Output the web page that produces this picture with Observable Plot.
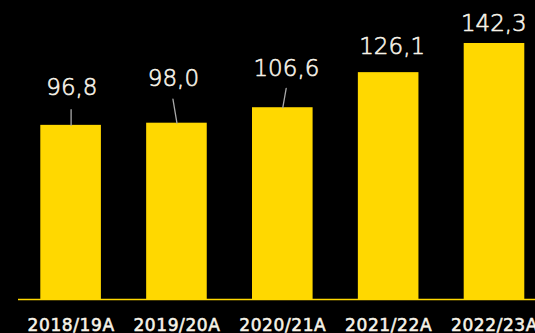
<!DOCTYPE html>
<html>
<head>
<meta charset="utf-8">
<script src="https://cdn.jsdelivr.net/npm/d3@7"></script>
<script src="https://cdn.jsdelivr.net/npm/@observablehq/plot@0.6"></script>
<style>
  html, body { margin: 0; padding: 0; background: #000; overflow: hidden; }
  #chart svg { display: block; }
  [aria-label^="x-axis"] text { letter-spacing: 0.6px; stroke: #F7F3E8; stroke-width: 0.55px; }
</style>
</head>
<body>
<div id="chart"></div>
<script>
const categories = ["2018/19A", "2019/20A", "2020/21A", "2021/22A", "2022/23A"];
const values = [96.8, 98.0, 106.6, 126.1, 142.3];
const valueLabels = ["96,8", "98,0", "106,6", "126,1", "142,3"];

const data = categories.map((c, i) => ({category: c, value: values[i], label: valueLabels[i]}));

// annotation placement (pixels): label shift and leader line geometry
const placement = [
  {dx: 0.8, lift: 37.3, leader: {len: 15.7, angle: 0}},
  {dx: -3.5, lift: 45, leader: {len: 24.3, angle: -9.5}},
  {dx: 3.6, lift: 39.5, leader: {len: 19.7, angle: 9.9}},
  {dx: 3.5, lift: 25.9},
  {dx: -0.7, lift: 20.3}
];

const yellow = "#FFD800";
const textColor = "#F7F3E8";
const lineShape = {draw(context, l) { context.moveTo(0, 0); context.lineTo(0, -l); }};

const annotationMarks = data.flatMap((d, i) => {
  const p = placement[i];
  const marks = [
    Plot.text([d], {
      x: "category", y: "value", text: "label",
      dx: p.dx, dy: -p.lift,
      fill: textColor, stroke: textColor, strokeWidth: 0.6,
      fontSize: 23, fontFamily: "DejaVu Sans", fontWeight: 200, textAnchor: "middle"
    })
  ];
  if (p.leader) {
    marks.push(Plot.vector([d], {
      x: "category", y: "value",
      length: p.leader.len, rotate: p.leader.angle,
      anchor: "start", shape: lineShape,
      stroke: "#A8A8A8", strokeWidth: 1.3
    }));
  }
  return marks;
});

const chart = Plot.plot({
  width: 535,
  height: 333,
  marginLeft: 18,
  marginRight: -11.6,
  marginTop: 0,
  marginBottom: 34,
  style: {background: "#000", color: textColor, fontFamily: "DejaVu Sans", fontSize: "17px", overflow: "hidden"},
  x: {domain: categories, paddingInner: 0.4275, paddingOuter: 0.2107, round: false, tickSize: 0, tickPadding: 19.5, label: null},
  y: {domain: [0, 166.2], axis: null},
  marks: [
    Plot.barY(data, {x: "category", y: "value", fill: yellow}),
    Plot.ruleY([0], {stroke: yellow, strokeWidth: 1.6}),
    ...annotationMarks
  ]
});
document.getElementById("chart").appendChild(chart);
</script>
</body>
</html>
